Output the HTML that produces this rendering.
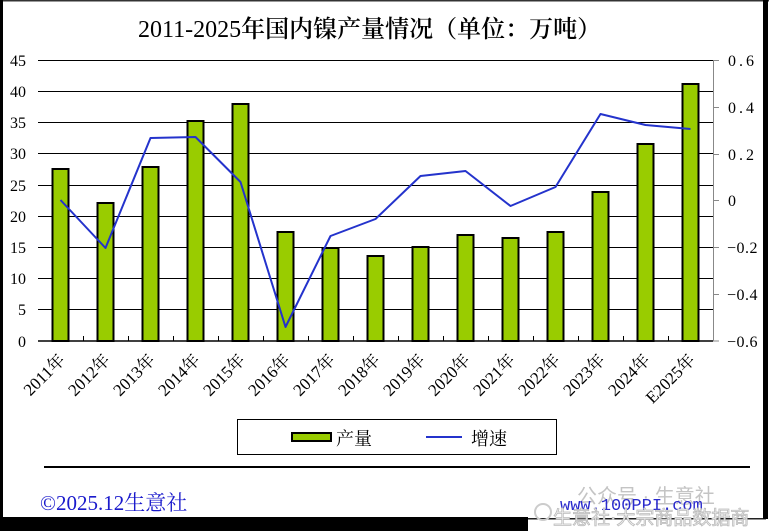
<!DOCTYPE html>
<html>
<head>
<meta charset="utf-8">
<style>
  html,body{margin:0;padding:0;background:#fff;}
  body{width:769px;height:531px;overflow:hidden;position:relative;}
  svg{display:block;}
  .ser{font-family:"Liberation Serif","Noto Serif CJK SC",serif;}
</style>
</head>
<body>
<svg width="769" height="531" viewBox="0 0 769 531" xmlns="http://www.w3.org/2000/svg">
  <rect x="0" y="0" width="769" height="531" fill="#fff"/>
  <!-- frame -->
  <rect x="0" y="0" width="769" height="1.5" fill="#333"/>
  <rect x="0" y="0" width="3" height="531" fill="#000"/>
  <rect x="0" y="517" width="528" height="14" fill="#000"/>
  <rect x="528" y="518" width="238" height="1.5" fill="#222"/>

  <!-- title -->
  <text x="138" y="37" class="ser" font-size="24" fill="#000">2011-2025<tspan font-weight="600">年国内镍产量情况（单位：万吨）</tspan></text>

  <!-- gridlines -->
  <g stroke="#000" stroke-width="1">
    <line x1="38" y1="60.5" x2="713" y2="60.5"/>
    <line x1="38" y1="91.5" x2="713" y2="91.5"/>
    <line x1="38" y1="122.5" x2="713" y2="122.5"/>
    <line x1="38" y1="153.5" x2="713" y2="153.5"/>
    <line x1="38" y1="185.5" x2="713" y2="185.5"/>
    <line x1="38" y1="216.5" x2="713" y2="216.5"/>
    <line x1="38" y1="247.5" x2="713" y2="247.5"/>
    <line x1="38" y1="278.5" x2="713" y2="278.5"/>
    <line x1="38" y1="309.5" x2="713" y2="309.5"/>
    <line x1="38" y1="341" x2="713" y2="341" stroke-width="1.5"/>
  </g>
  <!-- x ticks -->
  <g stroke="#000" stroke-width="1">
    <line x1="83.5" y1="336" x2="83.5" y2="341"/>
    <line x1="128.5" y1="336" x2="128.5" y2="341"/>
    <line x1="173.5" y1="336" x2="173.5" y2="341"/>
    <line x1="218.5" y1="336" x2="218.5" y2="341"/>
    <line x1="263.5" y1="336" x2="263.5" y2="341"/>
    <line x1="308.5" y1="336" x2="308.5" y2="341"/>
    <line x1="353.5" y1="336" x2="353.5" y2="341"/>
    <line x1="398.5" y1="336" x2="398.5" y2="341"/>
    <line x1="443.5" y1="336" x2="443.5" y2="341"/>
    <line x1="488.5" y1="336" x2="488.5" y2="341"/>
    <line x1="533.5" y1="336" x2="533.5" y2="341"/>
    <line x1="578.5" y1="336" x2="578.5" y2="341"/>
    <line x1="623.5" y1="336" x2="623.5" y2="341"/>
    <line x1="668.5" y1="336" x2="668.5" y2="341"/>
  </g>
  <!-- right axis -->
  <g stroke="#888" stroke-width="1">
    <line x1="713.5" y1="60" x2="713.5" y2="341"/>
    <line x1="713" y1="60.5" x2="719" y2="60.5"/>
    <line x1="713" y1="107.5" x2="719" y2="107.5"/>
    <line x1="713" y1="154.5" x2="719" y2="154.5"/>
    <line x1="713" y1="200.5" x2="719" y2="200.5"/>
    <line x1="713" y1="247.5" x2="719" y2="247.5"/>
    <line x1="713" y1="294.5" x2="719" y2="294.5"/>
    <line x1="713" y1="341" x2="719" y2="341"/>
  </g>

  <!-- left labels -->
  <g class="ser" font-size="16" fill="#000" text-anchor="end">
    <text x="26" y="66">45</text>
    <text x="26" y="97">40</text>
    <text x="26" y="128">35</text>
    <text x="26" y="159">30</text>
    <text x="26" y="191">25</text>
    <text x="26" y="222">20</text>
    <text x="26" y="253">15</text>
    <text x="26" y="284">10</text>
    <text x="26" y="315">5</text>
    <text x="26" y="347">0</text>
  </g>
  <!-- right labels -->
  <g class="ser" font-size="16" fill="#000" letter-spacing="3">
    <text x="728" y="66">0.6</text>
    <text x="728" y="113">0.4</text>
    <text x="728" y="160">0.2</text>
    <text x="728" y="206">0</text>
    <text x="727" y="253" letter-spacing="0.5">−0.2</text>
    <text x="727" y="300" letter-spacing="0.5">−0.4</text>
    <text x="727" y="347" letter-spacing="0.5">−0.6</text>
  </g>

  <!-- right border (drawn after labels) -->
  <rect x="763" y="0" width="5" height="519" fill="#000"/>

  <!-- bars -->
  <g fill="#99cc00" stroke="#000" stroke-width="2">
    <rect x="52.5" y="169" width="16" height="172"/>
    <rect x="97.5" y="203" width="16" height="138"/>
    <rect x="142.5" y="167" width="16" height="174"/>
    <rect x="187.5" y="121" width="16" height="220"/>
    <rect x="232.5" y="104" width="16" height="237"/>
    <rect x="277.5" y="232" width="16" height="109"/>
    <rect x="322.5" y="248" width="16" height="93"/>
    <rect x="367.5" y="256" width="16" height="85"/>
    <rect x="412.5" y="247" width="16" height="94"/>
    <rect x="457.5" y="235" width="16" height="106"/>
    <rect x="502.5" y="238" width="16" height="103"/>
    <rect x="547.5" y="232" width="16" height="109"/>
    <rect x="592.5" y="192" width="16" height="149"/>
    <rect x="637.5" y="144" width="16" height="197"/>
    <rect x="682.5" y="84" width="16" height="257"/>
  </g>

  <!-- line -->
  <polyline fill="none" stroke="#2433cc" stroke-width="2" stroke-linejoin="round"
    points="60.5,200 105.5,248 150.5,138 195.5,137 240.5,182 285.5,327 330.5,236 375.5,219 420.5,176 465.5,171 510.5,206 555.5,187 600.5,114 645.5,125 690.5,129"/>

  <!-- x labels -->
  <g class="ser" font-size="17" fill="#000" text-anchor="end">
    <text transform="translate(66,361) rotate(-45)">2011年</text>
    <text transform="translate(111,361) rotate(-45)">2012年</text>
    <text transform="translate(156,361) rotate(-45)">2013年</text>
    <text transform="translate(201,361) rotate(-45)">2014年</text>
    <text transform="translate(246,361) rotate(-45)">2015年</text>
    <text transform="translate(291,361) rotate(-45)">2016年</text>
    <text transform="translate(336,361) rotate(-45)">2017年</text>
    <text transform="translate(381,361) rotate(-45)">2018年</text>
    <text transform="translate(426,361) rotate(-45)">2019年</text>
    <text transform="translate(471,361) rotate(-45)">2020年</text>
    <text transform="translate(516,361) rotate(-45)">2021年</text>
    <text transform="translate(561,361) rotate(-45)">2022年</text>
    <text transform="translate(606,361) rotate(-45)">2023年</text>
    <text transform="translate(651,361) rotate(-45)">2024年</text>
    <text transform="translate(696,361) rotate(-45)">E2025年</text>
  </g>

  <!-- legend -->
  <rect x="237.5" y="419.5" width="319" height="35" fill="#fff" stroke="#000" stroke-width="1"/>
  <rect x="292" y="433" width="39" height="8" fill="#99cc00" stroke="#000" stroke-width="2"/>
  <text x="336" y="445" class="ser" font-size="18" fill="#000">产量</text>
  <line x1="426" y1="437" x2="462" y2="437" stroke="#2433cc" stroke-width="2"/>
  <text x="471" y="445" class="ser" font-size="18" fill="#000">增速</text>

  <!-- footer line -->
  <rect x="44" y="466" width="706" height="2" fill="#000"/>

  <!-- footer text -->
  <text x="40" y="510" class="ser" font-size="21" fill="#1a1acc">©2025.12生意社</text>

  <!-- watermark -->
  <circle cx="543" cy="512" r="8" fill="none" stroke="#ccc" stroke-width="2"/>
  <text x="577" y="503" font-family="Liberation Sans,'Noto Sans CJK SC',sans-serif" font-size="20" fill="#c4c4c4">公众号 · 生意社</text>
  <text x="560" y="510" font-family="Liberation Mono,monospace" font-size="17" fill="#2a2acc">www.100PPI.com</text>
  <text x="553" y="524" font-family="Liberation Sans,'Noto Sans CJK SC',sans-serif" font-size="19" fill="#f4f4f4" stroke="#bbb" stroke-width="0.8">生意社·大宗商品数据商</text>
</svg>
</body>
</html>
